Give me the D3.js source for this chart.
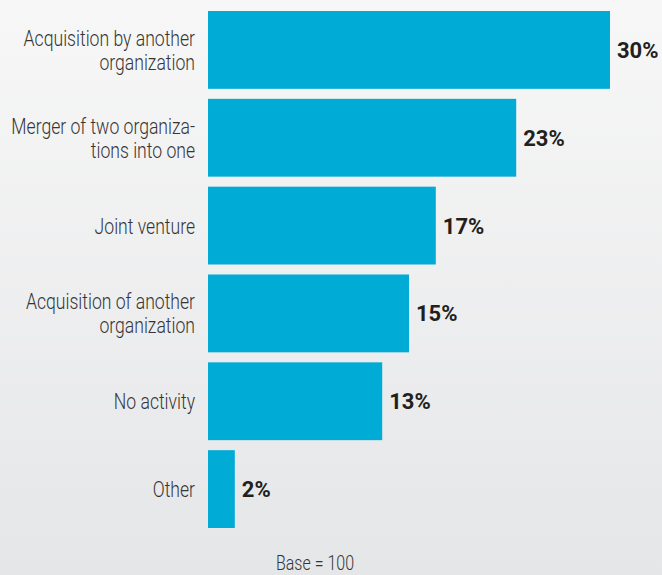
<!DOCTYPE html>
<html>
<head>
<meta charset="utf-8">
<script src="https://cdn.jsdelivr.net/npm/d3@7"></script>
<style>
  html, body { margin: 0; padding: 0; }
  body { width: 662px; height: 575px; overflow: hidden; }
  svg { display: block; }
</style>
</head>
<body>
<svg id="chart" width="662" height="575"></svg>
<script>
// Survey responses: type of organizational change
const categories = [
  ["Acquisition by another", "organization"],
  ["Merger of two organiza-", "tions into one"],
  ["Joint venture"],
  ["Acquisition of another", "organization"],
  ["No activity"],
  ["Other"]
];
const values = [30, 23, 17, 15, 13, 2];
const valueLabels = ["30%", "23%", "17%", "15%", "13%", "2%"];
const footnote = "Base = 100";

const W = 662, H = 575;
const svg = d3.select("#chart");

// soft vertical background gradient
const defs = svg.append("defs");
const grad = defs.append("linearGradient")
  .attr("id", "bg").attr("x1", 0).attr("y1", 0).attr("x2", 0).attr("y2", 1);
grad.append("stop").attr("offset", "0%").attr("stop-color", "#f7f7f7");
grad.append("stop").attr("offset", "100%").attr("stop-color", "#e5e6e8");
svg.append("rect").attr("width", W).attr("height", H).attr("fill", "url(#bg)");

const keys = categories.map(c => c.join(" "));

const x = d3.scaleLinear().domain([0, 30]).range([208, 610]);
const y = d3.scaleBand().domain(keys).range([11, 528])
  .paddingInner(0.114).paddingOuter(0);

const rows = keys.map((k, i) => ({ key: k, lines: categories[i], value: values[i], label: valueLabels[i] }));

// bars
svg.append("g").selectAll("rect").data(rows).join("rect")
  .attr("x", x(0))
  .attr("y", d => y(d.key))
  .attr("width", d => x(d.value) - x(0))
  .attr("height", y.bandwidth())
  .attr("fill", "#00abd5");

// value labels
svg.append("g").selectAll("text").data(rows).join("text")
  .attr("x", d => x(d.value) + 7)
  .attr("y", d => y(d.key) + y.bandwidth() / 2 + 8)
  .attr("font-family", "Roboto, 'Liberation Sans', sans-serif")
  .attr("font-weight", 700)
  .attr("font-size", 22)
  .attr("fill", "#231f20")
  .text(d => d.label);

// category labels (light, condensed)
const condense = 0.8;
const catG = svg.append("g").selectAll("g").data(rows).join("g")
  .attr("transform", d => {
    const cy = y(d.key) + y.bandwidth() / 2;
    const base = d.lines.length === 1 ? cy + 8 : cy - 4;
    return `translate(195,${base}) scale(${condense},1)`;
  });
catG.append("text")
  .attr("text-anchor", "end")
  .attr("font-family", "Roboto, 'Liberation Sans', sans-serif")
  .attr("font-weight", 300)
  .attr("font-size", 22)
  .attr("fill", "#353537")
  .selectAll("tspan").data(d => d.lines).join("tspan")
  .attr("x", 0)
  .attr("dy", (d, i) => i === 0 ? 0 : 24)
  .text(d => d);

// footnote
svg.append("g")
  .attr("transform", `translate(315,570) scale(${condense},1)`)
  .append("text")
  .attr("text-anchor", "middle")
  .attr("font-family", "Roboto, 'Liberation Sans', sans-serif")
  .attr("font-weight", 300)
  .attr("font-size", 20)
  .attr("fill", "#353537")
  .text(footnote);
</script>
</body>
</html>
